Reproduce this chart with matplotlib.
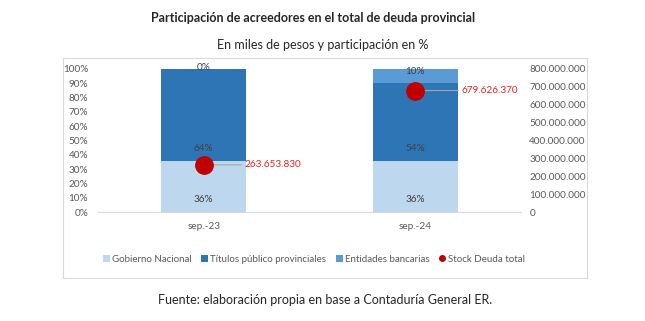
import matplotlib.pyplot as plt
from matplotlib.patches import Rectangle
import numpy as np

plt.rcParams['font.family'] = ['Lato', 'DejaVu Sans']

# datos
periodos = ['sep.-23', 'sep.-24']
gobierno_nacional = [36, 36]
titulos_provinciales = [64, 54]
entidades_bancarias = [0, 10]
stock_total = [263653830, 679626370]

series = [
    ('Gobierno Nacional', gobierno_nacional, '#BDD7EE'),
    ('Títulos público provinciales', titulos_provinciales, '#2E75B6'),
    ('Entidades bancarias', entidades_bancarias, '#5B9BD5'),
]

def miles(v):
    return f'{v:,.0f}'.replace(',', '.')

fig = plt.figure(figsize=(6.45, 3.21), dpi=100)

# marco del gráfico
fig.patches.append(Rectangle((63/645, 1-278/321), 524/645, 220/321,
                             transform=fig.transFigure, fill=False,
                             edgecolor='#D9D9D9', linewidth=0.8))

ax = fig.add_axes([98/645, 1-212/321, 423/645, 143/321])
x = np.arange(len(periodos))
ancho = 0.4
base = np.zeros(len(periodos))
handles = []
for nombre, vals, color in series:
    b = ax.bar(x, vals, ancho, bottom=base, color=color, label=nombre, zorder=2)
    handles.append(b)
    for xi, v, b0 in zip(x, vals, base):
        off = 2 if v == 0 else 12
        ax.annotate(f'{v}%', (xi, b0), xytext=(0, off*0.72), textcoords='offset points',
                    ha='center', va='center', fontsize=7.2, color='#404040', zorder=5)
    base = base + np.array(vals)

ax.set_xlim(-0.5, 1.5)
ax.set_ylim(0, 100)
ax.set_yticks(range(0, 101, 10))
ax.set_yticklabels([f'{t}%' for t in range(0, 101, 10)])
ax.set_xticks(x)
ax.set_xticklabels(periodos)
for s in ['top', 'right', 'left']:
    ax.spines[s].set_visible(False)
ax.spines['bottom'].set_color('#D9D9D9')
ax.tick_params(length=0, labelsize=7.2, colors='#595959')
ax.tick_params(axis='y', pad=7)
ax.tick_params(axis='x', pad=7)

ax2 = ax.twinx()
ax2.set_ylim(0, 800000000)
ax2.set_yticks(range(0, 800000001, 100000000))
ax2.set_yticklabels([miles(t) for t in range(0, 800000001, 100000000)])
for s in ax2.spines.values():
    s.set_visible(False)
ax2.tick_params(length=0, labelsize=7.2, colors='#595959', pad=6)
pts, = ax2.plot(x, stock_total, 'o', color='#C00000', markersize=12.5,
                linestyle='none', label='Stock Deuda total', zorder=4)
for xi, v, dx in zip(x, stock_total, [29, 33]):
    ax2.annotate(miles(v), (xi, v), xytext=(dx, 0), textcoords='offset points',
                 ha='left', va='center', fontsize=7.2, color='#E02424',
                 arrowprops=dict(arrowstyle='-', color='#A6A6A6', lw=0.8,
                                 shrinkA=0, shrinkB=1))

leg_handles = handles + [plt.Line2D([], [], marker='o', color='#C00000',
                                     linestyle='none', markersize=4)]
leg_labels = [s[0] for s in series] + ['Stock Deuda total']
fig.legend(leg_handles, leg_labels, loc='center', bbox_to_anchor=(314/645, 1-259/321),
           ncol=4, frameon=False, fontsize=7, handlelength=0.7, handleheight=0.7,
           handletextpad=0.2, columnspacing=1.0, labelcolor='#595959')

fig.text(313/645, 1-18/321, 'Participación de acreedores en el total de deuda provincial',
         ha='center', va='center', fontsize=9, fontweight='bold', color='#262626')
fig.text(323/645, 1-45/321, 'En miles de pesos y participación en %',
         ha='center', va='center', fontsize=9, color='#262626')
fig.text(325/645, 1-300/321, 'Fuente: elaboración propia en base a Contaduría General ER.',
         ha='center', va='center', fontsize=9, color='#262626')

fig.savefig('out.png', dpi=100)
